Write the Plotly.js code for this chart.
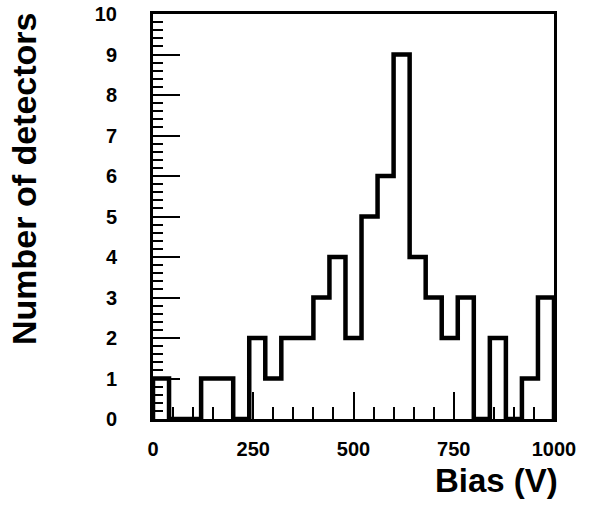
<!DOCTYPE html>
<html>
<head>
<meta charset="utf-8">
<script src="https://cdn.plot.ly/plotly-3.0.1.min.js"></script>
<style>html,body{margin:0;padding:0;background:#fff;}#chart{width:592px;height:505px;}</style>
</head>
<body>
<div id="chart"></div>
<script>
// Bin lower edges (V), bin width 40 V
const binEdges = [0, 40, 80, 120, 160, 200, 240, 280, 320, 360, 400, 440, 480, 520, 560, 600, 640, 680, 720, 760, 800, 840, 880, 920, 960, 1000];
// Counts per bin
const counts = [1, 0, 0, 1, 1, 0, 2, 1, 2, 2, 3, 4, 2, 5, 6, 9, 4, 3, 2, 3, 0, 2, 0, 1, 3];
const xTickVals = [0, 250, 500, 750, 1000];
const xTickText = ['0', '250', '500', '750', '1000'];
const xTitle = 'Bias (V)';
const yTitle = 'Number of detectors';

// step outline: start at 0, up to first count, steps, down to 0 at end
const sx = [binEdges[0]];
const sy = [0];
for (let i = 0; i < counts.length; i++) { sx.push(binEdges[i]); sy.push(counts[i]); }
sx.push(binEdges[binEdges.length - 1]); sy.push(counts[counts.length - 1]);
sx.push(binEdges[binEdges.length - 1]); sy.push(0);

const font = {family: 'Liberation Sans, Arial, Helvetica, sans-serif', color: '#000', weight: 'bold'};

const trace = {
  x: sx, y: sy, type: 'scatter', mode: 'lines',
  line: {shape: 'hv', color: '#000', width: 4.5},
  cliponaxis: false, hoverinfo: 'skip', showlegend: false
};

const layout = {
  width: 592, height: 505,
  margin: {l: 153, r: 38, t: 14, b: 86},
  paper_bgcolor: '#fff', plot_bgcolor: '#fff',
  font: font,
  xaxis: {
    range: [0, 1000], showgrid: false, zeroline: false,
    showline: true, linecolor: '#000', linewidth: 3, mirror: true,
    ticks: 'inside', ticklen: 27, tickwidth: 2, tickcolor: '#000',
    tickvals: xTickVals, ticktext: xTickText,
    ticklabelstandoff: 10,
    tickfont: Object.assign({}, font, {size: 20}),
    minor: {dtick: 50, tick0: 0, ticks: 'inside', ticklen: 12, tickwidth: 2, tickcolor: '#000', showgrid: false}
  },
  yaxis: {
    range: [0, 10], showgrid: false, zeroline: false,
    showline: true, linecolor: '#000', linewidth: 3, mirror: true,
    ticks: 'inside', ticklen: 27, tickwidth: 2, tickcolor: '#000',
    tickmode: 'linear', tick0: 0, dtick: 1,
    ticklabelstandoff: 29,
    tickfont: Object.assign({}, font, {size: 20}),
    minor: {tickmode: 'linear', tick0: 0, dtick: 0.2, ticks: 'inside', ticklen: 10, tickwidth: 2, tickcolor: '#000', showgrid: false}
  },
  annotations: [
    {text: xTitle, xref: 'paper', yref: 'paper', x: 1.016, y: -0.151,
     xanchor: 'right', yanchor: 'middle', showarrow: false,
     font: Object.assign({}, font, {size: 33})},
    {text: yTitle, xref: 'paper', yref: 'paper', x: -0.3217, y: 0.595,
     xanchor: 'center', yanchor: 'middle', textangle: -90, showarrow: false,
     font: Object.assign({}, font, {size: 34})}
  ]
};

Plotly.newPlot('chart', [trace], layout, {staticPlot: true, displayModeBar: false});
</script>
</body>
</html>
